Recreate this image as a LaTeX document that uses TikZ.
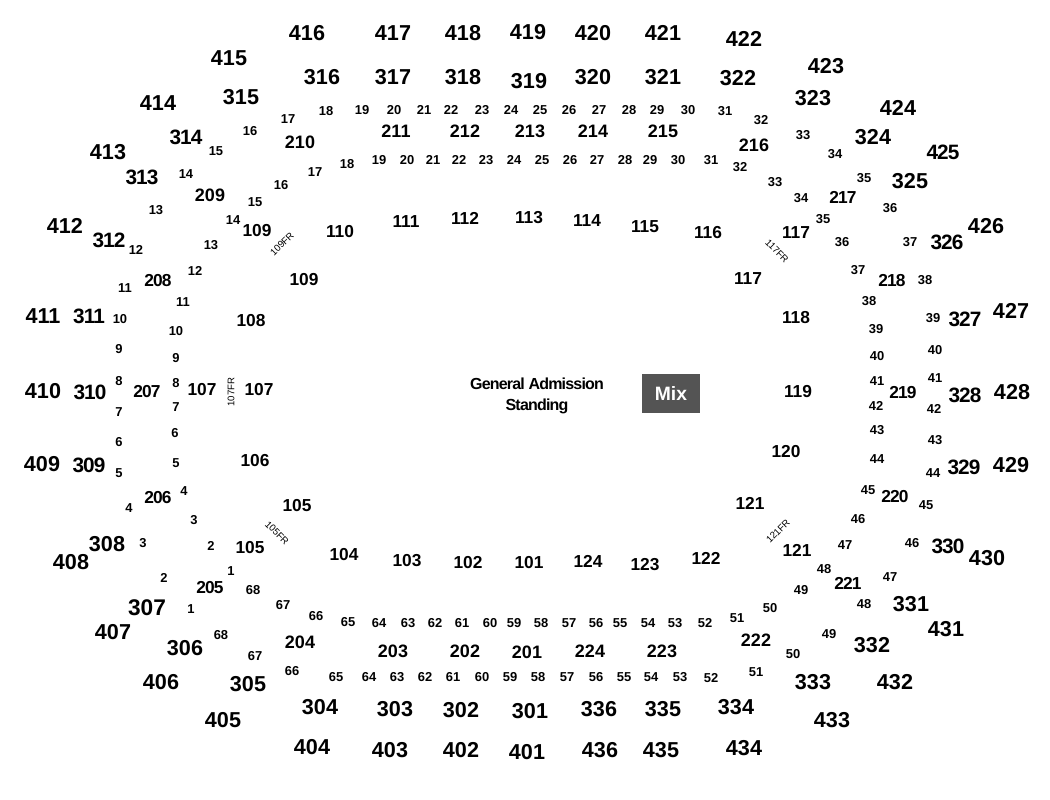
\documentclass[tikz,border=0pt]{standalone}
\usepackage{fontspec}
\setmainfont{Liberation Sans}[BoldFont={Liberation Sans Bold}]
\tikzset{x=0.75pt,y=-0.75pt,
 lab/.style={inner sep=0pt,text=black},
 upper/.style={lab,font=\fontsize{16.2pt}{17pt}\bfseries},
 uppertight/.style={lab,font=\fontsize{15.6pt}{17pt}\bfseries\selectfont\addfontfeature{LetterSpace=-4.5}},
 uppermax/.style={lab,font=\fontsize{17pt}{18pt}\bfseries},
 club/.style={lab,font=\fontsize{13.5pt}{15pt}\bfseries},
 clubtight/.style={lab,font=\fontsize{13pt}{15pt}\bfseries\selectfont\addfontfeature{LetterSpace=-5}},
 floorsec/.style={lab,font=\fontsize{13pt}{15pt}\bfseries},
 row/.style={lab,font=\fontsize{9.7pt}{11pt}\bfseries},
 fr/.style={lab,font=\fontsize{7.2pt}{8pt}\selectfont},
 gen/.style={lab,font=\fontsize{12pt}{14pt}\bfseries\selectfont\addfontfeature{LetterSpace=-5}},
 mixbox/.style={fill=black!67,text=white,inner sep=0pt,minimum width=43.5pt,minimum height=29.25pt,font=\fontsize{14.5pt}{16pt}\bfseries}}
\begin{document}
\begin{tikzpicture}
\useasboundingbox (0,0) rectangle (1050,800);
\fill[white] (0,0) rectangle (1050,800);
\foreach \x/\y/\t in {307/33/416,393/33/417,463/33/418,528/32/419,593/33/420,663/33/421,744/39/422,826/66/423,898/108/424,986/226/426,1011/311/427,1012/392/428,1011/465/429,987/558/430,946/629/431,895/682/432,832/720/433,744/748/434,661/750/435,600/750/436,527/752/401,461/750/402,390/750/403,312/747/404,223/720/405,161/682/406,113/632/407,71/562/408,42/464/409,43/391/410,43/316/411,65/226/412,108/152/413,158/103/414,229/58/415,
322/77/316,393/77/317,463/77/318,529/81/319,593/77/320,663/77/321,738/78/322,813/98/323,873/137/324,910/181/325,911/604/331,872/645/332,813/682/333,736/707/334,663/709/335,599/709/336,530/711/301,461/710/302,395/709/303,320/707/304,248/684/305,185/648/306,107/544/308,241/97/315}
  \node[upper] (u\t) at (\x,\y) {\t};
\foreach \x/\y/\t in {943/152/425,947/242/326,965/319/327,965/395/328,964/467/329,948/546/330,89/465/309,90/392/310,89/316/311,109/240/312,142/177/313,186/137/314}
  \node[uppertight] (u\t) at (\x,\y) {\t};
\node[uppermax] (u307) at (147,608) {307};
\foreach \x/\y/\t in {300/142/210,396/131/211,465/131/212,530/131/213,593/131/214,663/131/215,754/145/216,756/640/222,662/651/223,590/651/224,527/652/201,465/651/202,393/651/203,300/642/204,210/195/209}
  \node[club] (c\t) at (\x,\y) {\t};
\foreach \x/\y/\t in {843/197/217,892/281/218,903/393/219,895/497/220,848/583/221,210/588/205,158/498/206,147/392/207,158/281/208}
  \node[clubtight] (c\t) at (\x,\y) {\t};
\foreach \x/\y/\t/\k in {257/231/109/a,340/232/110/a,406/222/111/a,465/218/112/a,529/218/113/a,587/221/114/a,645/227/115/a,708/233/116/a,796/233/117/a,748/279/117/b,796/318/118/a,798/392/119/a,786/452/120/a,750/503/121/a,797/550/121/b,706/558/122/a,645/565/123/a,588/561/124/a,529/563/101/a,468/563/102/a,407/561/103/a,344/555/104/a,297/506/105/a,250/548/105/b,255/461/106/a,202/390/107/a,259/390/107/b,251/321/108/a,304/280/109/b}
  \node[floorsec] (f\t\k) at (\x,\y) {\t};
\foreach \x/\y/\t in {288/119/17,326/111/18,362/110/19,394/110/20,424/110/21,451/110/22,482/110/23,511/110/24,540/110/25,569/110/26,599/110/27,629/110/28,657/110/29,688/110/30,725/111/31,761/120/32,803/135/33,835/154/34,864/178/35,890/208/36,910/242/37,925/280/38,933/318/39,935/350/40,935/378/41,934/409/42,935/440/43,933/473/44,926/505/45,912/543/46,890/577/47,864/604/48,829/634/49,793/654/50,756/672/51,711/678/52,680/677/53,651/677/54,624/677/55,596/677/56,567/677/57,538/677/58,510/677/59,482/677/60,453/677/61,425/677/62,397/677/63,369/677/64,336/677/65,292/671/66,255/656/67,221/635/68,191/609/1,164/578/2,143/543/3,129/508/4,119/473/5,119/442/6,119/412/7,119/381/8,119/349/9,120/319/10,125/288/11,136/250/12,156/210/13,186/174/14,216/151/15,250/131/16}
  \node[row] (ro\t) at (\x,\y) {\t};
\foreach \x/\y/\t in {347/164/18,379/160/19,407/160/20,433/160/21,459/160/22,486/160/23,514/160/24,542/160/25,570/160/26,597/160/27,625/160/28,650/160/29,678/160/30,711/160/31,740/167/32,775/182/33,801/198/34,823/219/35,842/242/36,858/270/37,869/301/38,876/329/39,877/356/40,877/381/41,876/406/42,877/430/43,877/459/44,868/490/45,858/519/46,845/545/47,824/569/48,801/590/49,770/608/50,737/618/51,705/623/52,675/623/53,648/623/54,620/623/55,596/623/56,569/623/57,541/623/58,514/623/59,490/623/60,462/623/61,435/623/62,408/623/63,379/623/64,348/622/65,316/616/66,283/605/67,253/590/68,231/571/1,211/546/2,194/520/3,184/491/4,176/463/5,175/433/6,176/407/7,176/383/8,176/358/9,176/331/10,183/302/11,195/271/12,211/245/13,233/220/14,255/202/15,281/185/16,315/172/17}
  \node[row] (ri\t) at (\x,\y) {\t};
\node[fr,rotate=45] (fr109) at (282,244) {109FR};
\node[fr,rotate=-45] (fr117) at (777,251) {117FR};
\node[fr,rotate=45] (fr121) at (778,531) {121FR};
\node[fr,rotate=-45] (fr105) at (277,533) {105FR};
\node[fr,rotate=90] (fr107) at (231,392) {107FR};
\node[gen] (ga) at (537,384) {General Admission};
\node[gen] (st) at (537,406) {Standing};
\node[mixbox] (mix) at (671,393.5) {Mix};
\end{tikzpicture}
\end{document}
